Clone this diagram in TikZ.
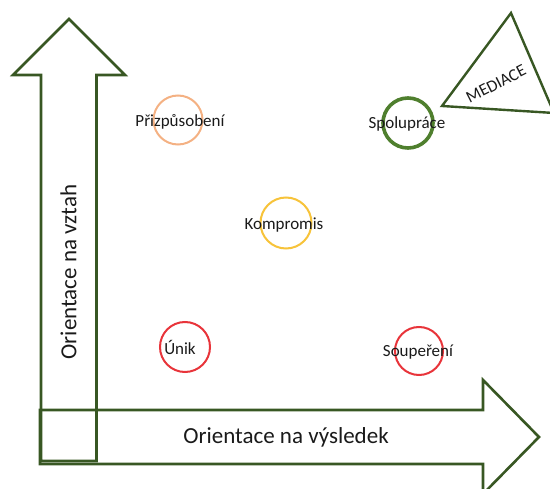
\documentclass[tikz,border=0pt]{standalone}
\usepackage{fontspec}
\setmainfont{Carlito}
\definecolor{arrowgreen}{HTML}{385723}
\definecolor{coopgreen}{HTML}{4F7F2E}
\definecolor{softorange}{HTML}{F4B183}
\definecolor{gold}{HTML}{F7C33A}
\definecolor{signalred}{HTML}{E8343A}
\definecolor{ink}{HTML}{1A1A1A}
\tikzset{
  bigarrow/.style={draw=arrowgreen, line width=2.6pt, line join=miter},
  ring/.style={circle, draw, line width=2pt, minimum size=50pt, inner sep=0pt},
  style label/.style={font=\fontsize{17}{20}\selectfont, text=ink, inner sep=0pt},
  axis label/.style={font=\fontsize{23}{27}\selectfont, text=ink, inner sep=0pt}
}
\begin{document}
\begin{tikzpicture}[x=1pt,y=-1pt]
  \useasboundingbox (0,0) rectangle (550,489);
  \clip (0,0) rectangle (550,489);

  % vertical axis arrow
  \draw[bigarrow] (41,461) -- (41,75) -- (13,75) -- (69,19) -- (125,75)
                  -- (96.5,75) -- (96.5,461) -- cycle;
  % horizontal axis arrow
  \draw[bigarrow] (40,410) -- (483,410) -- (483,380) -- (539,437)
                  -- (483,494) -- (483,464) -- (40,464) -- cycle;

  \node[axis label, rotate=90] (vztah) at (68.5,272) {Orientace na vztah};
  \node[axis label] (vysledek) at (286,437) {Orientace na výsledek};

  % mediation triangle
  \draw[draw=arrowgreen, line width=2.4pt, line join=miter]
    (442,106) -- (511,13) -- (554,113) -- cycle;
  \node[style label, rotate=27] (mediace) at (496,84) {MEDIACE};

  % conflict styles
  \node[ring, draw=softorange, minimum size=49pt] (c-prizp) at (178,120) {};
  \node[style label] (prizp) at (180,122) {Přizpůsobení};

  \node[ring, draw=coopgreen, line width=3.6pt, minimum size=50pt] (c-spol) at (408,123) {};
  \node[style label] (spol) at (407,124) {Spolupráce};

  \node[ring, draw=gold, minimum size=51pt] (c-komp) at (286,223) {};
  \node[style label] (komp) at (284,225) {Kompromis};

  \node[ring, draw=signalred, minimum size=50pt] (c-unik) at (185,347) {};
  \node[style label] (unik) at (180,347) {Únik};

  \node[ring, draw=signalred, minimum size=48pt] (c-soup) at (419,351) {};
  \node[style label] (soup) at (418,352) {Soupeření};
\end{tikzpicture}
\end{document}
